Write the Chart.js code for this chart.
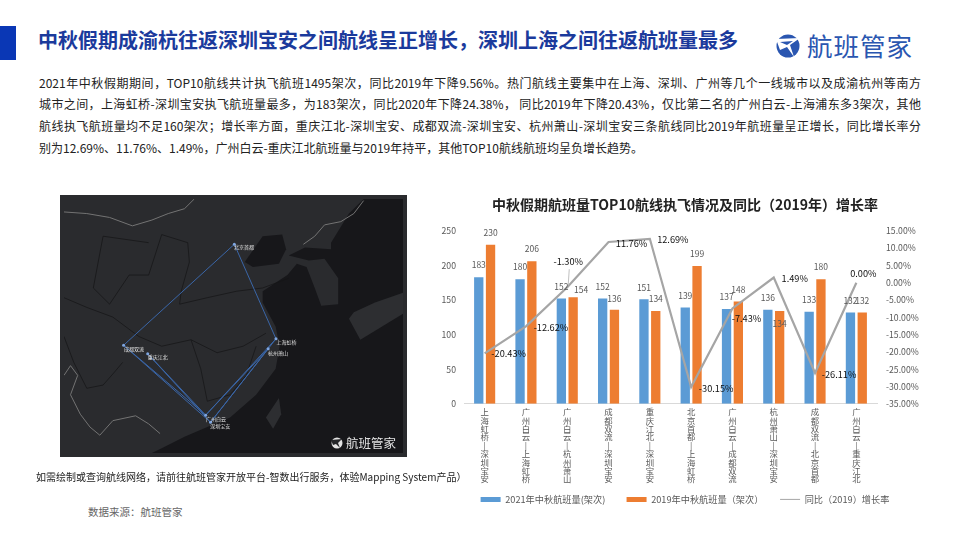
<!DOCTYPE html>
<html lang="zh-CN">
<head>
<meta charset="UTF-8">
<title>中秋假期航班量TOP10航线</title>
<script src="https://cdn.jsdelivr.net/npm/chart.js"></script>
<style>
  html, body { margin: 0; padding: 0; background: #fff; }
  body { width: 960px; height: 540px; position: relative; overflow: hidden; font-family: "Noto Sans CJK SC", "Noto Sans", sans-serif; }
  .abs { position: absolute; white-space: nowrap; }
  canvas { display: block; }
  #bar { left: 0; top: 26px; width: 16px; height: 34px; background: #0a37b5; }
  #head { left: 38px; top: 25px; font-size: 20px; line-height: 30px; font-weight: 700; color: #1b3a9c; }
  #logoText { left: 807px; top: 27px; font-size: 25.5px; line-height: 36px; color: #2a56b0; letter-spacing: 1px; }
  #logoIcon { left: 775px; top: 33px; }
  .para { left: 39px; width: 882px; font-size: 12px; line-height: 18px; color: #222; text-align: justify; text-align-last: justify; white-space: normal; }
  #note { left: 36px; top: 469px; font-size: 10px; line-height: 16px; color: #222; }
  #source { left: 88px; top: 504px; font-size: 10.5px; line-height: 16px; color: #666; }
  #mapBox { left: 60px; top: 195px; width: 347px; height: 262px; }
  #chartBox { left: 430px; top: 190px; width: 510px; height: 330px; }
  #mapLogo { left: 346px; top: 434px; font-size: 12.5px; line-height: 18px; color: #e4e4e4; }
</style>
</head>
<body>
<div class="abs" id="bar"></div>
<div class="abs" id="head">中秋假期成渝杭往返深圳宝安之间航线呈正增长，深圳上海之间往返航班量最多</div>
<svg class="abs" id="logoIcon" width="26" height="26" viewBox="0 0 26 26">
  <circle cx="13" cy="13" r="11.5" fill="#2a56b0"/>
  <path d="M1 6 L25 5 L15 12 L19 24 L12 14 L5 17 Z" fill="#fff"/>
  <path d="M5 9 L18 8 L12 12 Z" fill="#2a56b0"/>
</svg>
<div class="abs" id="logoText">航班管家</div>

<div class="abs para" style="top:74px">2021年中秋假期期间，TOP10航线共计执飞航班1495架次，同比2019年下降9.56%。热门航线主要集中在上海、深圳、广州等几个一线城市以及成渝杭州等南方</div>
<div class="abs para" style="top:95px">城市之间，上海虹桥-深圳宝安执飞航班量最多，为183架次，同比2020年下降24.38%， 同比2019年下降20.43%，仅比第二名的广州白云-上海浦东多3架次，其他</div>
<div class="abs para" style="top:117px">航线执飞航班量均不足160架次；增长率方面，重庆江北-深圳宝安、成都双流-深圳宝安、杭州萧山-深圳宝安三条航线同比2019年航班量呈正增长，同比增长率分</div>
<div class="abs para" style="top:139px;text-align-last:left">别为12.69%、11.76%、1.49%，广州白云-重庆江北航班量与2019年持平，其他TOP10航线航班均呈负增长趋势。</div>

<div class="abs" id="mapBox"><canvas id="map" width="347" height="262"></canvas></div>
<svg class="abs" style="left:331px;top:437px" width="12" height="12" viewBox="0 0 12 12">
  <circle cx="6" cy="6" r="5.5" fill="#e4e4e4"/>
  <path d="M0 3 L11 2 L7 6 L9 11 L5 7 L2 8 Z" fill="#26272a"/>
</svg>
<div class="abs" id="mapLogo">航班管家</div>

<div class="abs" id="chartBox"><canvas id="chart" width="510" height="330"></canvas></div>

<div class="abs" id="note">如需绘制或查询航线网络，请前往航班管家开放平台-智数出行服务，体验Mapping System产品）</div>
<div class="abs" id="source">数据来源：航班管家</div>

<script>
const CJK = '"Noto Sans CJK SC", "Noto Sans", sans-serif';

const routes = ['上海虹桥-深圳宝安', '广州白云-上海虹桥', '广州白云-杭州萧山', '成都双流-深圳宝安', '重庆江北-深圳宝安',
  '北京首都-上海虹桥', '广州白云-成都双流', '杭州萧山-深圳宝安', '成都双流-北京首都', '广州白云-重庆江北'];
const flights2021 = [183, 180, 152, 152, 151, 139, 137, 136, 133, 132];
const flights2019 = [230, 206, 154, 136, 134, 199, 148, 134, 180, 132];
const growth = [-20.43, -12.62, -1.30, 11.76, 12.69, -30.15, -7.43, 1.49, -26.11, 0.00];

// label nudges where the reference moves a label off its default spot
const growthLabelDx = [24, 25, 1, 23, 23, 25, 14, 21, 24, 7];
const growthLabelDy = [0, 1, -26, 1, 1, 1, 10, 1, 1, -9];
const label2019Dx = [0, 0, 8, 0, 0, 0, 0, 0, 0, 0];
const label2019Dy = [-12, -12, -7, -11, -12, -12, -12, 13, -12, -12];

const valueLabels = {
  id: 'valueLabels',
  afterDatasetsDraw(chart) {
    const { ctx } = chart;
    ctx.save();
    ctx.textAlign = 'center';
    ctx.textBaseline = 'middle';
    ctx.font = '8.5px ' + CJK;
    ctx.fillStyle = '#595959';
    chart.getDatasetMeta(0).data.forEach((bar, i) => {
      ctx.fillText(flights2021[i], bar.x, bar.y - 12);
    });
    chart.getDatasetMeta(1).data.forEach((bar, i) => {
      ctx.fillText(flights2019[i], bar.x + label2019Dx[i], bar.y + label2019Dy[i]);
    });
    ctx.font = '9.2px ' + CJK;
    ctx.fillStyle = '#111';
    chart.getDatasetMeta(2).data.forEach((pt, i) => {
      if (i === 2) { // leader line for -1.30%
        ctx.strokeStyle = '#a5a5a5';
        ctx.lineWidth = 0.7;
        ctx.beginPath();
        ctx.moveTo(pt.x + 2, pt.y - 18);
        ctx.lineTo(pt.x + 1, pt.y - 3);
        ctx.stroke();
      }
      ctx.fillText(growth[i].toFixed(2) + '%', pt.x + growthLabelDx[i], pt.y + growthLabelDy[i]);
    });
    ctx.restore();
  }
};

new Chart(document.getElementById('chart'), {
  type: 'bar',
  data: {
    labels: routes,
    datasets: [
      { label: '2021年中秋航班量(架次)', data: flights2021, backgroundColor: '#5b9bd5', yAxisID: 'y', order: 2, barPercentage: 0.79, categoryPercentage: 0.571 },
      { label: '2019年中秋航班量（架次）', data: flights2019, backgroundColor: '#ed7d31', yAxisID: 'y', order: 2, barPercentage: 0.79, categoryPercentage: 0.571 },
      { type: 'line', label: '同比（2019）增长率', data: growth, borderColor: '#a5a5a5', backgroundColor: '#a5a5a5', borderWidth: 2.2, pointRadius: 0, tension: 0, yAxisID: 'y1', order: 1 }
    ]
  },
  options: {
    responsive: false,
    animation: false,
    devicePixelRatio: 1,
    layout: { padding: { bottom: 6 } },
    plugins: {
      tooltip: { enabled: false },
      title: {
        display: true,
        text: '中秋假期航班量TOP10航线执飞情况及同比（2019年）增长率',
        color: '#222',
        font: { family: CJK, size: 14, weight: 'bold' },
        padding: { top: 6, bottom: 18 }
      },
      legend: {
        position: 'bottom',
        labels: {
          boxHeight: 5, padding: 10,
          usePointStyle: true, pointStyleWidth: 20,
          color: '#595959',
          font: { family: CJK, size: 9.2 },
          generateLabels(chart) {
            return chart.data.datasets.map((d, i) => ({
              // wide space keeps the legend entries as far apart as in the picture
              text: d.type === 'line' ? d.label : d.label + '　 ',
              fontColor: '#595959',
              fillStyle: d.backgroundColor,
              strokeStyle: d.backgroundColor,
              pointStyle: d.type === 'line' ? 'line' : 'rect',
              lineWidth: d.type === 'line' ? 1 : 0,
              datasetIndex: i
            }));
          }
        }
      }
    },
    scales: {
      x: {
        grid: { display: false, drawTicks: false },
        border: { color: '#d9d9d9' },
        afterFit(scale) { scale.height = 81; },
        ticks: {
          autoSkip: false, maxRotation: 0, minRotation: 0, padding: 4,
          color: '#595959',
          font: { family: CJK, size: 8.4, lineHeight: 1 },
          callback(value) {
            return this.getLabelForValue(value).replace('-', '|').split('');
          }
        }
      },
      y: {
        position: 'left', min: 0, max: 250,
        grid: { display: false, drawTicks: false },
        border: { display: false },
        afterFit(scale) { scale.width = 34; },
        ticks: { stepSize: 50, padding: 8, color: '#595959', font: { family: CJK, size: 8.7 } }
      },
      y1: {
        position: 'right', min: -35, max: 15,
        grid: { display: false, drawTicks: false },
        border: { display: false },
        afterFit(scale) { scale.width = 63; },
        ticks: {
          stepSize: 5, padding: 9, color: '#595959', font: { family: CJK, size: 8.7 },
          callback: v => v.toFixed(2) + '%'
        }
      }
    }
  },
  plugins: [valueLabels]
});

// --- route map, coordinates in its own map units ---
const cityNames = ['北京首都', '上海虹桥', '杭州萧山', '成都双流', '重庆江北', '广州白云', '深圳宝安'];
const cityX = [553, 681, 657, 213, 287, 465, 480];
const cityY = [155, 447, 478, 467, 493, 683, 705];
const cityLabelDx = [30, 32, 30, 32, 31, 32, 30];
const cityLabelDy = [10, 11, 12, 12, 11, 12, 12];
const routeFrom = [0, 0, 1, 1, 2, 2, 4, 3, 3, 4];
const routeTo = [1, 3, 6, 5, 5, 6, 6, 6, 5, 5];

const toPoints = (xs, ys) => xs.map((x, i) => ({ x, y: ys[i] }));

// sea outline: Yellow Sea and East China Sea down the coast, then round the right edge and back over Korea
const seaEastX = [720, 782, 830, 872, 872, 820, 800, 775, 745, 716, 640, 640, 680, 692, 680, 620, 540, 470, 400, 330, 300, 1071, 1071, 950, 905, 850, 850, 880, 880, 850, 770, 720];
const seaEastY = [190, 205, 200, 260, 340, 345, 290, 225, 215, 250, 300, 335, 410, 470, 540, 620, 690, 720, 750, 785, 800, 800, 15, 15, 60, 150, 170, 230, 200, 170, 165, 190];
const bohaiX = [585, 640, 700, 712, 690, 610];
const bohaiY = [210, 130, 125, 170, 215, 225];
const taiwanX = [650, 690, 697, 672];
const taiwanY = [690, 630, 680, 725];
const japanX = [1071, 985, 920, 905, 940, 1071];
const japanY = [305, 335, 365, 385, 450, 370];

const borderNorthX = [30, 100, 170, 240, 300, 350, 400, 430];
const borderNorthY = [55, 60, 72, 98, 80, 60, 45, 15];
const borderEastX = [765, 800, 830, 880, 920, 950];
const borderEastY = [155, 130, 95, 85, 60, 20];
const borderSouthX = [30, 50, 72, 50, 80, 110, 140, 180, 250, 290, 325];
const borderSouthY = [560, 530, 560, 620, 680, 720, 745, 700, 685, 710, 740];

const provinceLines = [
  [[290, 150, 120, 170, 230, 290, 330, 410, 415, 390, 385], [150, 130, 290, 340, 250, 250, 125, 150, 210, 300, 340]],
  [[30, 100, 180, 260, 330, 420, 500, 580, 650], [320, 350, 380, 440, 470, 450, 490, 470, 430]],
  [[385, 470, 560, 640, 720], [340, 320, 300, 290, 260]],
  [[30, 60, 100, 150, 185, 210], [440, 520, 600, 590, 550, 520]],
  [[420, 450, 470, 540, 590, 620], [450, 540, 640, 620, 560, 470]]
];

const regionDatasets = [
  [seaEastX, seaEastY], [bohaiX, bohaiY]
].map(([xs, ys]) => ({ data: toPoints(xs, ys), fill: 'shape', backgroundColor: '#17171a', borderWidth: 0, pointRadius: 0 }));

const landDatasets = [
  [taiwanX, taiwanY], [japanX, japanY]
].map(([xs, ys]) => ({ data: toPoints(xs, ys), fill: 'shape', backgroundColor: '#2d2e31', borderWidth: 0, pointRadius: 0 }));

const provinceDatasets = provinceLines.map(([xs, ys]) => ({ data: toPoints(xs, ys), borderColor: '#141416', borderWidth: 0.7, pointRadius: 0 }));

const borderDatasets = [
  [borderNorthX, borderNorthY], [borderEastX, borderEastY], [borderSouthX, borderSouthY]
].map(([xs, ys]) => ({ data: toPoints(xs, ys), borderColor: '#737373', borderWidth: 1, pointRadius: 0 }));

const routeDatasets = routeFrom.map((a, i) => ({
  data: [{ x: cityX[a], y: cityY[a] }, { x: cityX[routeTo[i]], y: cityY[routeTo[i]] }],
  borderColor: '#3a66a8', borderWidth: 1, pointRadius: 0
}));

const cityLabels = {
  id: 'cityLabels',
  beforeDraw(chart) {
    const { ctx, width, height } = chart;
    ctx.save();
    ctx.fillStyle = '#2a2b2e';
    ctx.fillRect(0, 0, width, height);
    ctx.restore();
  },
  afterDatasetsDraw(chart) {
    const { ctx, scales } = chart;
    ctx.save();
    ctx.font = '5px ' + CJK;
    ctx.textAlign = 'center';
    ctx.textBaseline = 'middle';
    ctx.fillStyle = '#e0e0e0';
    cityNames.forEach((n, i) => {
      ctx.fillText(n, scales.x.getPixelForValue(cityX[i] + cityLabelDx[i]), scales.y.getPixelForValue(cityY[i] + cityLabelDy[i]));
    });
    ctx.restore();
  }
};

// first dataset is painted last, so the list runs top layer to bottom layer
new Chart(document.getElementById('map'), {
  type: 'scatter',
  data: {
    datasets: [
      { data: toPoints(cityX, cityY), showLine: false, pointRadius: 1.5, backgroundColor: '#7fa6e0', borderWidth: 0 },
      ...routeDatasets, ...borderDatasets, ...provinceDatasets, ...landDatasets, ...regionDatasets
    ].map(d => ({ showLine: true, ...d }))
  },
  options: {
    responsive: false,
    animation: false,
    devicePixelRatio: 1,
    layout: { padding: 0 },
    plugins: { legend: { display: false }, tooltip: { enabled: false }, title: { display: false } },
    scales: {
      x: { display: false, type: 'linear', min: 30, max: 1071 },
      y: { display: false, type: 'linear', min: 15, max: 800, reverse: true }
    }
  },
  plugins: [cityLabels]
});
</script>
</body>
</html>
